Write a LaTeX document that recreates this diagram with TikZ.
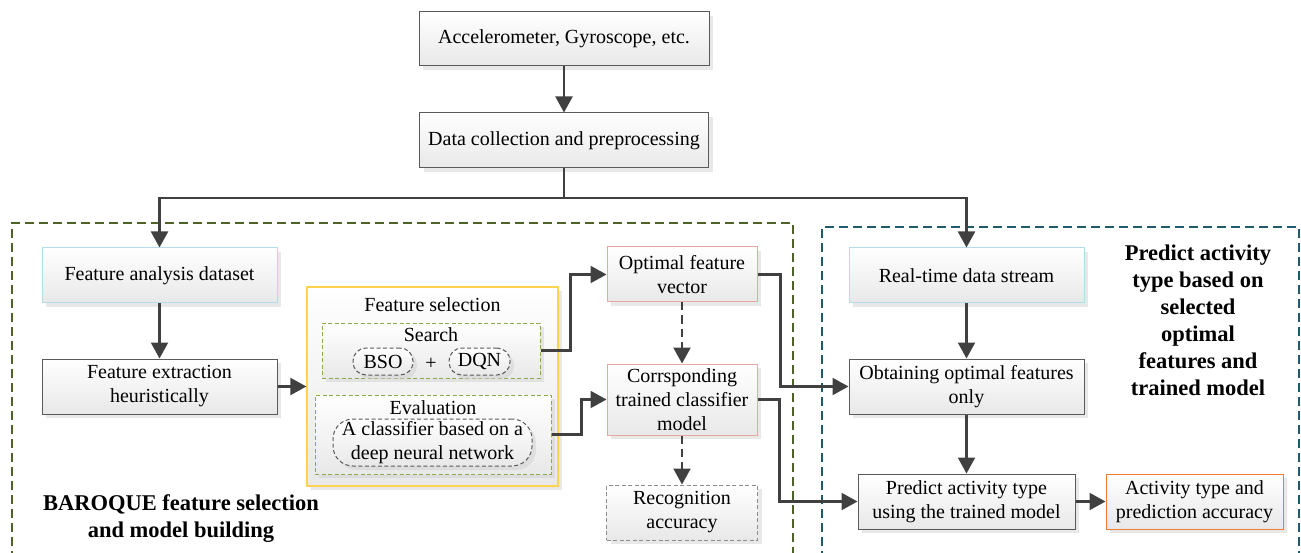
\documentclass[tikz,border=0pt]{standalone}
\usepackage{fontspec}
\setmainfont{LiberationSerif}[Extension=.ttf, UprightFont=*-Regular, BoldFont=*-Bold, ItalicFont=*-Italic, BoldItalicFont=*-BoldItalic]
\usetikzlibrary{arrows.meta,shadows,positioning}
\definecolor{lineC}{HTML}{404040}
\definecolor{grayB}{HTML}{5A5A5A}
\definecolor{blueB}{HTML}{B4DDE9}
\definecolor{pinkB}{HTML}{E6A8A2}
\definecolor{yellowB}{HTML}{FFD34D}
\definecolor{greenB}{HTML}{8AAA4E}
\definecolor{oliveB}{HTML}{4F6228}
\definecolor{tealB}{HTML}{215A6B}
\definecolor{orangeB}{HTML}{ED7D31}
\tikzset{
  wh/.style 2 args={minimum width=#1pt, minimum height=#2pt},
  base/.style={draw, line width=1pt, top color=white, bottom color=black!9,
    align=center, inner sep=2pt, font=\rmfamily\fontsize{20}{24}\selectfont,
    drop shadow={shadow xshift=4pt, shadow yshift=-4pt, fill=black!18}},
  graybox/.style={base, draw=grayB},
  bluebox/.style={base, draw=blueB},
  pinkbox/.style={base, draw=pinkB},
  orangebox/.style={base, draw=orangeB},
  recbox/.style={base, draw=black!45, dash pattern=on 4pt off 2.5pt},
  yellowbox/.style={base, draw=yellowB, line width=1.3pt},
  greenbox/.style={base, draw=greenB, dash pattern=on 4pt off 2.5pt},
  pill/.style={base, draw=grayB, dash pattern=on 4pt off 2.5pt, rounded corners=13pt},
  lbl/.style={font=\rmfamily\fontsize{20}{24}\selectfont, align=center, inner sep=0pt},
  bold/.style={font=\rmfamily\fontsize{22.5}{27}\selectfont\bfseries, align=center, inner sep=0pt},
  arr/.style={draw=lineC, line width=2.2pt, -{Triangle[length=16pt,width=17pt]}},
  plain/.style={draw=lineC, line width=2.2pt},
  darr/.style={arr, dash pattern=on 8pt off 5pt},
  outer/.style={line width=2.2pt, dash pattern=on 9pt off 5pt}
}
\begin{document}
\begin{tikzpicture}[x=1pt,y=-1pt]
\useasboundingbox (0,0) rectangle (1301,553);
\clip (0,0) rectangle (1301,553);
% outer dashed regions
\draw[outer, draw=oliveB] (12,560) -- (12,223) -- (793,223) -- (793,560);
\draw[outer, draw=tealB] (822,560) -- (822,227) -- (1299,227) -- (1299,560);
% top
\node[graybox, wh={290}{54}] (acc) at (564,39) {Accelerometer, Gyroscope, etc.};
\node[graybox, wh={289}{55}] (dc) at (564,140.5) {Data collection and preprocessing};
% left
\node[bluebox, wh={235}{55}] (fad) at (159.5,275.5) {Feature analysis dataset};
\node[graybox, wh={235}{55}] (fe) at (159.5,386.5) {Feature extraction\\heuristically};
\node[yellowbox, wh={251}{199}] (fs) at (432.5,386.5) {};
\node[lbl] (fst) at (432.5,305) {Feature selection};
\node[greenbox, wh={218}{55}] (search) at (431,350.5) {};
\node[lbl] (st) at (431,335) {Search};
\node[pill, wh={60}{27}, inner sep=0pt] (bso) at (383,361.5) {BSO};
\node[pill, wh={61}{27}, inner sep=0pt] (dqn) at (479.5,361.5) {DQN};
\node[lbl] (plus) at (431,364) {+};
\node[greenbox, wh={236}{79}] (eval) at (433,434.5) {};
\node[lbl] (et) at (433,408) {Evaluation};
\node[pill, wh={199}{47}, inner sep=0pt, rounded corners=20pt] (cls) at (432.5,442.5) {A classifier based on a\\deep neural network};
% middle
\node[pinkbox, wh={150}{55}] (ofv) at (682,274.5) {Optimal feature\\vector};
\node[pinkbox, wh={150}{71}] (cor) at (682,399.5) {Corrsponding\\trained classifier\\model};
\node[recbox, wh={151}{55}] (rec) at (682,512.5) {Recognition\\accuracy};
% right
\node[bluebox, wh={235}{55}] (rtd) at (966.5,275.5) {Real-time data stream};
\node[graybox, wh={235}{55}] (obt) at (966.5,386.5) {Obtaining optimal features\\only};
\node[graybox, wh={217}{55}] (pred) at (966.5,501.5) {Predict activity type\\using the trained model};
\node[orangebox, wh={177}{55}] (act) at (1194.5,501.5) {Activity type and\\prediction accuracy};
% bold labels
\node[bold] (lt) at (181,519) {BAROQUE feature selection\\and model building};
\node[bold] (rt) at (1198,320) {Predict activity\\type based on\\selected\\optimal\\features and\\trained model};
% connectors
\draw[arr] (acc) -- (dc);
\coordinate (j) at (564,198);
\draw[plain] (dc.south) -- (j);
\draw[arr] (j) -| (fad.north);
\draw[arr] (j) -| (rtd.north);
\draw[arr] (fad) -- (fe);
\draw[arr] (fe) -- (fs);
\draw[arr] (search.east) -- ++(30,0) |- (ofv.west);
\draw[arr] (eval.east) -- ++(30,0) |- (cor.west);
\draw[darr] (ofv) -- (cor);
\draw[darr] (cor) -- (rec);
\draw[arr] (ofv.east) -- ++(23,0) |- (obt.west);
\draw[arr] (cor.east) -- ++(22,0) |- (pred.west);
\draw[arr] (rtd) -- (obt);
\draw[arr] (obt) -- (pred);
\draw[arr] (pred) -- (act);
\end{tikzpicture}
\end{document}
